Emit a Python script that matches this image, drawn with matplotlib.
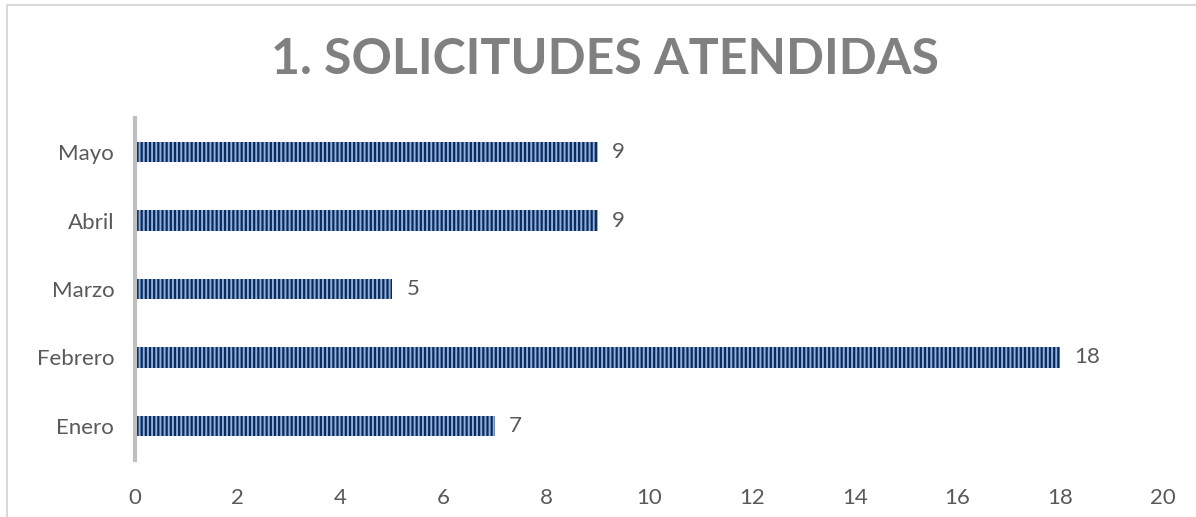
import matplotlib.pyplot as plt
from matplotlib.lines import Line2D

plt.rcParams['hatch.linewidth'] = 1.4

# Data
meses   = ["Enero", "Febrero", "Marzo", "Abril", "Mayo"]
valores = [7, 18, 5, 9, 9]
x_ticks = [0, 2, 4, 6, 8, 10, 12, 14, 16, 18, 20]

W, H = 1196, 517
fig = plt.figure(figsize=(W / 100, H / 100), dpi=100)
fig.patch.set_facecolor("white")

# chart area border (left and top only visible)
fig.add_artist(Line2D([7 / W, 7 / W], [0, 1 - 5 / H], transform=fig.transFigure, color="#d9d9d9", lw=1.5))
fig.add_artist(Line2D([7 / W, 1], [1 - 5 / H, 1 - 5 / H], transform=fig.transFigure, color="#d9d9d9", lw=1.5))

ax = fig.add_axes([135 / W, 1 - 460 / H, (1163 - 135) / W, (460 - 118) / H])

bars = ax.barh(meses, valores, height=0.3, color="#0b2a5c", edgecolor="#8fb0dc",
               hatch="||||", linewidth=0)
for b in bars:
    b.set_edgecolor("#8fb0dc")

lbl_font = dict(family="Lato", fontsize=16, color="#595959")

for i, v in enumerate(valores):
    ax.text(v + 0.28, i, str(v), va="center", ha="left", **lbl_font)

ax.set_xlim(0, 20)
ax.set_ylim(-0.5, len(meses) - 0.5)
ax.set_xticks(x_ticks)
ax.set_xticklabels([str(t) for t in x_ticks], **lbl_font)
ax.set_yticks(range(len(meses)))
ax.set_yticklabels(meses, **lbl_font)

ax.tick_params(axis="both", length=0)
ax.tick_params(axis="x", pad=20)
ax.tick_params(axis="y", pad=15)

for s in ["top", "right", "bottom"]:
    ax.spines[s].set_visible(False)
ax.spines["left"].set_color("#bfbfbf")
ax.spines["left"].set_linewidth(3)

fig.text(605 / W, 1 - 59 / H, "1. SOLICITUDES ATENDIDAS", ha="center", va="center",
         fontsize=36, fontweight="bold", color="#808080", family="Lato")

fig.savefig("out.png", dpi=100, facecolor="white")
